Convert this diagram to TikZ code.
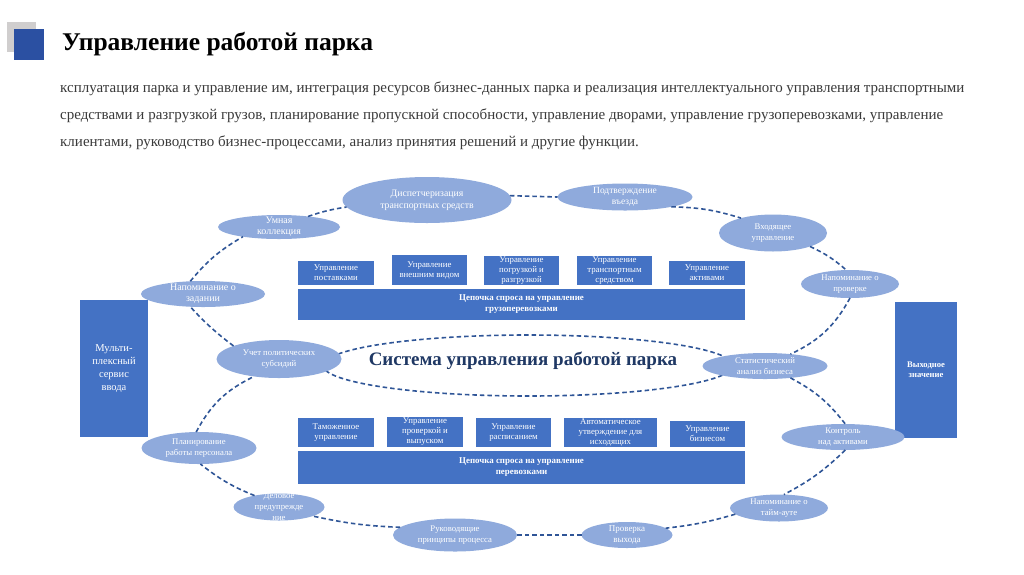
\documentclass[tikz,border=0pt]{standalone}
\usepackage{fontspec}
\setmainfont{Liberation Serif}
\usetikzlibrary{shapes.geometric}
\definecolor{boxblue}{HTML}{4472C4}
\definecolor{ellblue}{HTML}{8FAADC}
\definecolor{dashblue}{HTML}{2F5597}
\definecolor{titleblue}{HTML}{1F3864}
\definecolor{paragray}{HTML}{3A3A3A}
\definecolor{sqblue}{HTML}{2B50A2}
\definecolor{sqgray}{HTML}{D0CECE}
\begin{document}
\begin{tikzpicture}[x=1pt,y=-1pt,
  bxs/.style={rectangle, fill=boxblue, draw=none, inner sep=0, outer sep=0},
  bxt/.style={text=white, align=center, inner sep=0, font=\fontsize{8.8}{10}\selectfont},
  bart/.style={text=white, align=center, inner sep=0, font=\fontsize{8.9}{11}\selectfont\bfseries},
  elps/.style={ellipse, fill=ellblue, draw=none, inner sep=0, outer sep=0},
  elt/.style={text=white, align=center, inner sep=0, font=\fontsize{8.7}{11}\selectfont},
  dl/.style={draw=dashblue, dash pattern=on 4.5pt off 3pt, line width=1.6pt},
  para/.style={anchor=base west, text=paragray, inner sep=0, font=\fontsize{15}{15}\selectfont}]
\useasboundingbox[fill=white] (0,0) rectangle (1024,574);

% header
\fill[sqgray] (7,22) rectangle (36,52);
\fill[sqblue] (14,29) rectangle (44,60);
\node[anchor=base west, inner sep=0, font=\fontsize{25.5}{25.5}\selectfont\bfseries] (title) at (62,50) {Управление работой парка};

\node[para] (p1) at (60,92) {ксплуатация парка и управление им, интеграция ресурсов бизнес-данных парка и реализация интеллектуального управления транспортными};
\node[para] (p2) at (60,119) {средствами и разгрузкой грузов, планирование пропускной способности, управление дворами, управление грузоперевозками, управление};
\node[para] (p3) at (60,146) {клиентами, руководство бизнес-процессами, анализ принятия решений и другие функции.};

% side boxes
\node[bxs, minimum width=68, minimum height=137] (inbox) at (114,368.5) {};
\node[text=white, align=center, inner sep=0, font=\fontsize{10.5}{13}\selectfont] (inbox-t) at (inbox) {Мульти-\\плексный\\сервис\\ввода};
\node[bxs, minimum width=62, minimum height=136] (outbox) at (926,370) {};
\node[text=white, align=center, inner sep=0, font=\fontsize{8.6}{10}\selectfont\bfseries] (outbox-t) at (outbox) {Выходное\\значение};

% upper block
\node[bxs, minimum width=76, minimum height=24] (u1) at (336,273) {};
\node[bxt] (u1t) at (u1) {Управление\\поставками};
\node[bxs, minimum width=75, minimum height=30] (u2) at (429.5,270) {};
\node[bxt] (u2t) at (u2) {Управление\\внешним видом};
\node[bxs, minimum width=75, minimum height=29] (u3) at (521.5,270.5) {};
\node[bxt] (u3t) at (u3) {Управление\\погрузкой и\\разгрузкой};
\node[bxs, minimum width=75, minimum height=29] (u4) at (614.5,270.5) {};
\node[bxt] (u4t) at (u4) {Управление\\транспортным\\средством};
\node[bxs, minimum width=76, minimum height=24] (u5) at (707,273) {};
\node[bxt] (u5t) at (u5) {Управление\\активами};
\node[bxs, minimum width=447, minimum height=31] (ubar) at (521.5,304.5) {};
\node[bart] (ubart) at (ubar) {Цепочка спроса на управление\\грузоперевозками};

% lower block
\node[bxs, minimum width=76, minimum height=29] (l1) at (336,432.5) {};
\node[bxt] (l1t) at (l1) {Таможенное\\управление};
\node[bxs, minimum width=76, minimum height=30] (l2) at (425,432) {};
\node[bxt] (l2t) at (l2) {Управление\\проверкой и\\выпуском};
\node[bxs, minimum width=75, minimum height=29] (l3) at (513.5,432.5) {};
\node[bxt] (l3t) at (l3) {Управление\\расписанием};
\node[bxs, minimum width=93, minimum height=29] (l4) at (610.5,432.5) {};
\node[bxt] (l4t) at (l4) {Автоматическое\\утверждение для\\исходящих};
\node[bxs, minimum width=75, minimum height=26] (l5) at (707.5,434) {};
\node[bxt] (l5t) at (l5) {Управление\\бизнесом};
\node[bxs, minimum width=447, minimum height=33] (lbar) at (521.5,467.5) {};
\node[bart] (lbart) at (lbar) {Цепочка спроса на управление\\перевозками};

% central dashed ellipse and title
\draw[dl] (528,365.5) ellipse [x radius=205, y radius=30.5];
\node[inner sep=0, text=titleblue, font=\fontsize{19}{19}\selectfont\bfseries] (center) at (523,361) {Система управления работой парка};

% ellipses
\node[elps, minimum width=169, minimum height=46] (disp) at (427,200) {};
\node[text=white, align=center, inner sep=0, font=\fontsize{9.8}{12}\selectfont] (disp-t) at (disp) {Диспетчеризация\\транспортных средств};
\node[elps, minimum width=122, minimum height=24] (umn) at (279,227) {};
\node[elt, font=\fontsize{10}{11}\selectfont] (umn-t) at (umn) {Умная\\коллекция};
\node[elps, minimum width=135, minimum height=27] (podt) at (625,197) {};
\node[elt, font=\fontsize{9.5}{11}\selectfont] (podt-t) at (podt) {Подтверждение\\въезда};
\node[elps, minimum width=108, minimum height=37] (vhod) at (773,233) {};
\node[elt] (vhod-t) at (vhod) {Входящее\\управление};
\node[elps, minimum width=98, minimum height=28] (nprov) at (850,284) {};
\node[elt] (nprov-t) at (nprov) {Напоминание о\\проверке};
\node[elps, minimum width=124, minimum height=26] (nzad) at (203,294) {};
\node[elt, font=\fontsize{10}{11}\selectfont] (nzad-t) at (nzad) {Напоминание о\\задании};
\node[elps, minimum width=125, minimum height=38] (uchet) at (279,359) {};
\node[elt] (uchet-t) at (uchet) {Учет политических\\субсидий};
\node[elps, minimum width=125, minimum height=26] (stat) at (765,366) {};
\node[elt] (stat-t) at (stat) {Статистический\\анализ бизнеса};
\node[elps, minimum width=115, minimum height=32] (plan) at (199,448) {};
\node[elt] (plan-t) at (plan) {Планирование\\работы персонала};
\node[elps, minimum width=123, minimum height=26] (kontr) at (843,437) {};
\node[elt] (kontr-t) at (kontr) {Контроль\\над активами};
\node[elps, minimum width=91, minimum height=27] (del) at (279,507) {};
\node[elt] (del-t) at (del) {Деловое\\предупрежде\\ние};
\node[elps, minimum width=98, minimum height=27] (taim) at (779,508) {};
\node[elt] (taim-t) at (taim) {Напоминание о\\тайм-ауте};
\node[elps, minimum width=124, minimum height=33] (ruk) at (455,535) {};
\node[elt] (ruk-t) at (ruk) {Руководящие\\принципы процесса};
\node[elps, minimum width=91, minimum height=26] (prov) at (627,535) {};
\node[elt, font=\fontsize{9}{11}\selectfont] (prov-t) at (prov) {Проверка\\выхода};

% ring connectors
\draw[dl] (umn.20) to[bend left=5] (disp.185);
\draw[dl] (disp.3) to (podt.180);
\draw[dl] (podt.-12) to[bend left=8] (vhod.155);
\draw[dl] (vhod.-20) to[bend left=8] (nprov.105);
\draw[dl] (nprov.south) to[bend left=18] (stat.25);
\draw[dl] (stat.-25) to[bend left=12] (kontr.80);
\draw[dl] (kontr.-80) to[bend left=8] (taim.70);
\draw[dl] (taim.188) to[bend left=5] (prov.10);
\draw[dl] (prov.west) to (ruk.east);
\draw[dl] (ruk.172) to[bend left=5] (del.-15);
\draw[dl] (del.155) to[bend left=8] (plan.-85);
\draw[dl] (plan.100) to[bend left=18] (uchet.-145);
\draw[dl] (uchet.164) to[bend left=5] (nzad.-135);
\draw[dl] (nzad.135) to[bend left=10] (umn.-165);
\end{tikzpicture}
\end{document}
